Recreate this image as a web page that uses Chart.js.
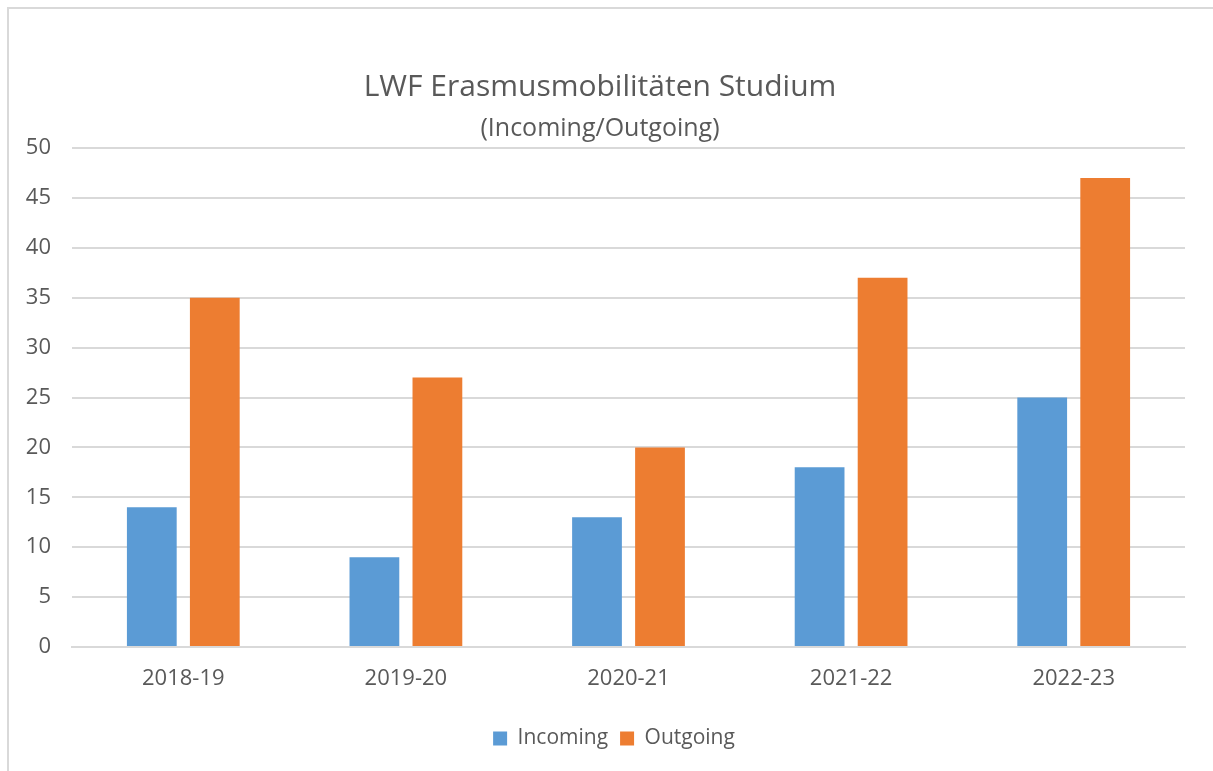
<!DOCTYPE html>
<html>
<head>
<meta charset="utf-8">
<script src="https://cdn.jsdelivr.net/npm/chart.js@4/dist/chart.umd.min.js"></script>
<style>
  html, body { margin: 0; padding: 0; background: #fff; overflow: hidden; }
  #wrap { position: relative; width: 1213px; height: 771px; }
  #frame { position: absolute; left: 7px; top: 7px; width: 1220px; height: 780px; border: 2px solid #d9d9d9; box-sizing: border-box; pointer-events: none; }
  canvas { position: absolute; left: 0; top: 0; }
</style>
</head>
<body>
<div id="wrap">
  <canvas id="c" width="1213" height="771"></canvas>
  <div id="frame"></div>
</div>
<script>
const categories = ["2018-19", "2019-20", "2020-21", "2021-22", "2022-23"];
const incoming = [14, 9, 13, 18, 25];
const outgoing = [35, 27, 20, 37, 47];
const seriesNames = ["Incoming", "Outgoing"];
const titleText = "LWF Erasmusmobilitäten Studium";
const subtitleText = "(Incoming/Outgoing)";

const FONT = "'Open Sans', sans-serif";
const GREY = "#595959";

const shiftLegend = {
  id: "shiftLegend",
  afterLayout(chart) {
    if (chart.legend) { chart.legend.left += 14; chart.legend.right += 14; }
  }
};

new Chart(document.getElementById("c"), {
  type: "bar",
  data: {
    labels: categories,
    datasets: [
      { label: seriesNames[0], data: incoming, backgroundColor: "#5B9BD5" },
      { label: seriesNames[1], data: outgoing, backgroundColor: "#ED7D31" }
    ]
  },
  plugins: [shiftLegend],
  options: {
    responsive: false,
    animation: false,
    layout: { padding: { left: 15, right: 28, top: 69, bottom: 12 } },
    datasets: { bar: { categoryPercentage: 0.566, barPercentage: 0.79 } },
    plugins: {
      title: { display: true, text: titleText, color: GREY, font: { family: FONT, size: 30, weight: "normal" }, padding: { top: 0, bottom: 8.5 } },
      subtitle: { display: true, text: subtitleText, color: GREY, font: { family: FONT, size: 25, weight: "normal" }, padding: { top: 0, bottom: 4.5 } },
      legend: {
        position: "bottom",
        labels: { color: GREY, font: { family: FONT, size: 21 }, boxWidth: 14, boxHeight: 14, padding: 12 }
      },
      tooltip: { enabled: false }
    },
    scales: {
      x: {
        grid: { display: false, drawTicks: false },
        border: { color: "#d9d9d9", width: 2 },
        ticks: { color: GREY, font: { family: FONT, size: 22 }, padding: 19 },
        afterFit: (s) => { s.height = 69; }
      },
      y: {
        min: 0, max: 50,
        ticks: { stepSize: 5, color: GREY, font: { family: FONT, size: 22 }, padding: 21 },
        grid: { color: "#d9d9d9", lineWidth: 2, drawTicks: false },
        border: { display: false },
        afterFit: (s) => { s.width = 57; }
      }
    }
  }
});
</script>
</body>
</html>
